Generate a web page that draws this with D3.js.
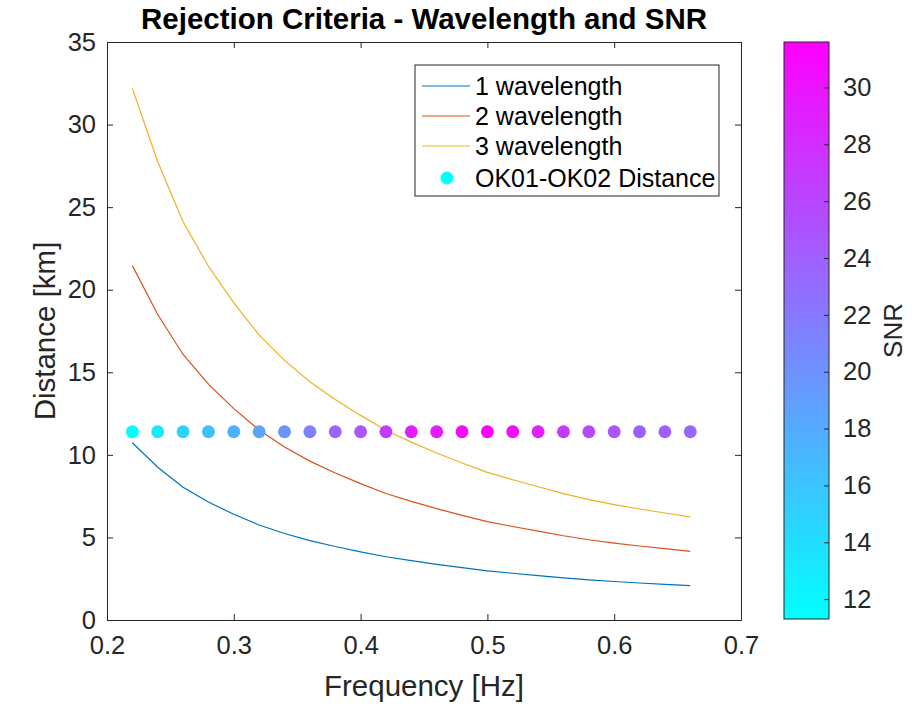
<!DOCTYPE html>
<html>
<head>
<meta charset="utf-8">
<script src="https://cdn.jsdelivr.net/npm/d3@7"></script>
<style>
  html, body { margin: 0; padding: 0; background: #fff; }
  svg { display: block; font-family: "Liberation Sans", Arial, sans-serif; }
</style>
</head>
<body>
<svg id="chart" width="916" height="704"></svg>
<script>
// ---- data ----
const frequency = [0.22, 0.24, 0.26, 0.28, 0.30, 0.32, 0.34, 0.36, 0.38, 0.40, 0.42, 0.44,
                   0.46, 0.48, 0.50, 0.52, 0.54, 0.56, 0.58, 0.60, 0.62, 0.64, 0.66];
const wavelength1 = [10.73, 9.25, 8.04, 7.14, 6.40, 5.75, 5.24, 4.81, 4.45, 4.13, 3.83, 3.59,
                     3.37, 3.17, 2.98, 2.83, 2.69, 2.55, 2.43, 2.33, 2.24, 2.16, 2.08];
const wavelength2 = [21.46, 18.50, 16.08, 14.28, 12.80, 11.50, 10.48, 9.62, 8.90, 8.26, 7.66, 7.18,
                     6.74, 6.34, 5.96, 5.66, 5.38, 5.10, 4.86, 4.66, 4.48, 4.32, 4.16];
const wavelength3 = [32.19, 27.75, 24.12, 21.42, 19.20, 17.25, 15.72, 14.43, 13.35, 12.39, 11.49, 10.77,
                     10.11, 9.51, 8.94, 8.49, 8.07, 7.65, 7.29, 6.99, 6.72, 6.48, 6.24];
const stationDistance = [11.4, 11.4, 11.4, 11.4, 11.4, 11.4, 11.4, 11.4, 11.4, 11.4, 11.4, 11.4,
                         11.4, 11.4, 11.4, 11.4, 11.4, 11.4, 11.4, 11.4, 11.4, 11.4, 11.4];
const snr = [11.3, 13.3, 14.7, 16.3, 17.6, 18.6, 20.0, 21.4, 23.5, 24.9, 27.0, 29.2,
             29.6, 30.8, 31.6, 31.0, 29.2, 27.1, 25.9, 24.9, 24.1, 23.9, 23.5];
const xTicks = [0.2, 0.3, 0.4, 0.5, 0.6, 0.7];
const yTicks = [0, 5, 10, 15, 20, 25, 30, 35];
const cbTicks = [12, 14, 16, 18, 20, 22, 24, 26, 28, 30];
const seriesNames = ["1 wavelength", "2 wavelength", "3 wavelength"];
const seriesColors = ["#0072BD", "#D95319", "#EDB120"];
const scatterName = "OK01-OK02 Distance";

// ---- layout ----
const svg = d3.select("#chart");
const plot = { left: 107, right: 741, top: 42, bottom: 620 };
const cb = { left: 784, right: 829, top: 42, bottom: 619 };
const axisColor = "#262626";
const tickFont = 25.5;

const x = d3.scaleLinear().domain([0.2, 0.7]).range([plot.left, plot.right]);
const y = d3.scaleLinear().domain([0, 35]).range([plot.bottom, plot.top]);
const snrExtent = d3.extent(snr);
const cool = t => d3.rgb(255 * t, 255 * (1 - t), 255).toString();
const color = d3.scaleSequential(cool).domain(snrExtent);
const cbScale = d3.scaleLinear().domain(snrExtent).range([cb.bottom, cb.top]);

// clip
svg.append("defs").append("clipPath").attr("id", "clip")
  .append("rect").attr("x", plot.left).attr("y", plot.top)
  .attr("width", plot.right - plot.left).attr("height", plot.bottom - plot.top);

// lines
const series = [wavelength1, wavelength2, wavelength3];
const line = d3.line().x((d, i) => x(frequency[i])).y(d => y(d));
const g = svg.append("g").attr("clip-path", "url(#clip)");
series.forEach((s, k) => {
  g.append("path").datum(s).attr("d", line)
    .attr("fill", "none").attr("stroke", seriesColors[k]).attr("stroke-width", 1.2);
});
// scatter
g.selectAll("circle.pt").data(frequency).join("circle")
  .attr("class", "pt")
  .attr("cx", d => x(d)).attr("cy", (d, i) => y(stationDistance[i]))
  .attr("r", 6.5).attr("fill", (d, i) => color(snr[i]));

// axes
const tickLen = 6;
const xAxisB = d3.axisBottom(x).tickValues(xTicks).tickSizeInner(-tickLen).tickSizeOuter(0).tickPadding(16)
  .tickFormat(d3.format(".1f"));
const xAxisT = d3.axisTop(x).tickValues(xTicks).tickSizeInner(-tickLen).tickSizeOuter(0).tickFormat("");
const yAxisL = d3.axisLeft(y).tickValues(yTicks).tickSizeInner(-tickLen).tickSizeOuter(0).tickPadding(11);
const yAxisR = d3.axisRight(y).tickValues(yTicks).tickSizeInner(-tickLen).tickSizeOuter(0).tickFormat("");

function styleAxis(sel) {
  sel.select(".domain").attr("stroke", axisColor).attr("stroke-width", 1);
  sel.selectAll(".tick line").attr("stroke", axisColor).attr("stroke-width", 1);
  sel.selectAll(".tick text").attr("fill", axisColor).attr("font-size", tickFont)
    .attr("font-family", "Liberation Sans, Arial, sans-serif");
}
svg.append("g").attr("transform", `translate(0,${plot.bottom})`).call(xAxisB).call(styleAxis);
svg.append("g").attr("transform", `translate(0,${plot.top})`).call(xAxisT).call(styleAxis);
svg.append("g").attr("transform", `translate(${plot.left},0)`).call(yAxisL).call(styleAxis);
svg.append("g").attr("transform", `translate(${plot.right},0)`).call(yAxisR).call(styleAxis);

// labels
svg.append("text").attr("x", (plot.left + plot.right) / 2).attr("y", 29)
  .attr("text-anchor", "middle").attr("font-size", 29.5).attr("font-weight", "bold")
  .attr("fill", "#000").text("Rejection Criteria - Wavelength and SNR");
svg.append("text").attr("x", (plot.left + plot.right) / 2).attr("y", 696)
  .attr("text-anchor", "middle").attr("font-size", 29.5).attr("fill", axisColor)
  .text("Frequency [Hz]");
svg.append("text").attr("transform", `translate(55,${(plot.top + plot.bottom) / 2}) rotate(-90)`)
  .attr("text-anchor", "middle").attr("font-size", 29.5).attr("fill", axisColor)
  .text("Distance [km]");

// legend
const lg = { left: 415, top: 65, width: 304, height: 131 };
const legend = svg.append("g");
legend.append("rect").attr("x", lg.left).attr("y", lg.top).attr("width", lg.width).attr("height", lg.height)
  .attr("fill", "#fff").attr("stroke", axisColor).attr("stroke-width", 1);
const rowY = [86, 116, 146, 178];
seriesNames.forEach((name, k) => {
  legend.append("line").attr("x1", 422).attr("x2", 470).attr("y1", rowY[k]).attr("y2", rowY[k])
    .attr("stroke", seriesColors[k]).attr("stroke-width", 1.2);
  legend.append("text").attr("x", 475).attr("y", rowY[k]).attr("dy", "0.35em")
    .attr("font-size", 25).attr("fill", "#000").text(name);
});
legend.append("circle").attr("cx", 447).attr("cy", rowY[3]).attr("r", 6.5).attr("fill", color(snrExtent[0]));
legend.append("text").attr("x", 475).attr("y", rowY[3]).attr("dy", "0.35em")
  .attr("font-size", 25).attr("fill", "#000").text(scatterName);

// colorbar
const grad = svg.select("defs").append("linearGradient").attr("id", "cbgrad")
  .attr("x1", 0).attr("y1", 1).attr("x2", 0).attr("y2", 0);
d3.range(0, 1.0001, 0.1).forEach(t => {
  grad.append("stop").attr("offset", t).attr("stop-color", cool(t));
});
svg.append("rect").attr("x", cb.left).attr("y", cb.top).attr("width", cb.right - cb.left)
  .attr("height", cb.bottom - cb.top).attr("fill", "url(#cbgrad)")
  .attr("stroke", axisColor).attr("stroke-width", 1);
const cbAxis = d3.axisRight(cbScale).tickValues(cbTicks).tickSizeInner(-5).tickSizeOuter(0).tickPadding(14);
svg.append("g").attr("transform", `translate(${cb.right},0)`).call(cbAxis).call(styleAxis)
  .call(s => s.select(".domain").remove());
svg.append("text").attr("transform", `translate(902,${(cb.top + cb.bottom) / 2}) rotate(-90)`)
  .attr("text-anchor", "middle").attr("font-size", 26).attr("fill", axisColor).text("SNR");
</script>
</body>
</html>
